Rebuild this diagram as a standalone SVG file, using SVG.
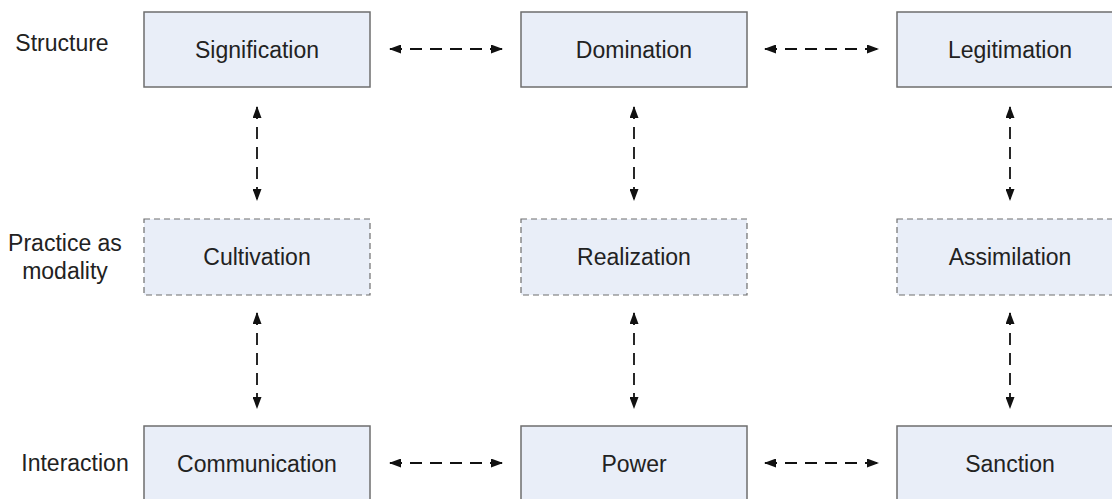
<svg xmlns="http://www.w3.org/2000/svg" width="1112" height="499" viewBox="0 0 1112 499">
<style>
.box{fill:#e9eef8;stroke:#6e6e6e;stroke-width:1.5}
.dbox{fill:#e9eef8;stroke:#6e6e6e;stroke-width:1.2;stroke-dasharray:6,4}
.t{font-family:"Liberation Sans",Arial,sans-serif;font-size:23px;fill:#222;text-anchor:middle;dominant-baseline:central}
.c{stroke:#111;stroke-width:1.8;stroke-dasharray:12,8;fill:none;marker-start:url(#a);marker-end:url(#a)}
</style>
<defs>
<marker id="a" viewBox="0 0 12 9" refX="11" refY="4.5" markerWidth="12" markerHeight="9" markerUnits="userSpaceOnUse" orient="auto-start-reverse">
<path d="M0,0 L12,4.5 L0,9 Z" fill="#111"/>
</marker>
</defs>
<rect width="1112" height="499" fill="#fff"/>
<g id="labels">
<text class="t" x="62" y="43">Structure</text>
<text class="t" x="65" y="243">Practice as</text>
<text class="t" x="65" y="271">modality</text>
<text class="t" x="75" y="463">Interaction</text>
</g>
<g id="signification"><rect class="box" x="144" y="12" width="226" height="75"/><text class="t" x="257" y="50">Signification</text></g>
<g id="domination"><rect class="box" x="521" y="12" width="226" height="75"/><text class="t" x="634" y="50">Domination</text></g>
<g id="legitimation"><rect class="box" x="897" y="12" width="226" height="75"/><text class="t" x="1010" y="50">Legitimation</text></g>
<g id="cultivation"><rect class="dbox" x="144" y="219" width="226" height="76"/><text class="t" x="257" y="257">Cultivation</text></g>
<g id="realization"><rect class="dbox" x="521" y="219" width="226" height="76"/><text class="t" x="634" y="257">Realization</text></g>
<g id="assimilation"><rect class="dbox" x="897" y="219" width="226" height="76"/><text class="t" x="1010" y="257">Assimilation</text></g>
<g id="communication"><rect class="box" x="144" y="426" width="226" height="80"/><text class="t" x="257" y="464">Communication</text></g>
<g id="power"><rect class="box" x="521" y="426" width="226" height="80"/><text class="t" x="634" y="464">Power</text></g>
<g id="sanction"><rect class="box" x="897" y="426" width="226" height="80"/><text class="t" x="1010" y="464">Sanction</text></g>
<g id="connectors">
<path class="c" d="M390,49 H502"/>
<path class="c" d="M765,49 H878"/>
<path class="c" d="M390,463 H502"/>
<path class="c" d="M765,463 H878"/>
<path class="c" d="M257,107 V200"/>
<path class="c" d="M634,107 V200"/>
<path class="c" d="M1010,107 V200"/>
<path class="c" d="M257,313 V408"/>
<path class="c" d="M634,313 V408"/>
<path class="c" d="M1010,313 V408"/>
</g>
</svg>
